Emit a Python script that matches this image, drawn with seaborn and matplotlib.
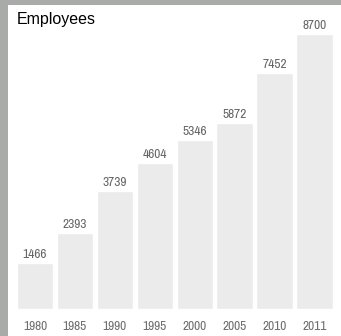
import matplotlib
matplotlib.use("Agg")
import matplotlib.pyplot as plt
from matplotlib.patches import Rectangle
import seaborn as sns
import pandas as pd

years = ["1980", "1985", "1990", "1995", "2000", "2005", "2010", "2011"]
employees = [1466, 2393, 3739, 4604, 5346, 5872, 7452, 8700]
title = "Employees"

sns.set_style("white")
narrow = ["Pragati Narrow", "Archivo Narrow", "DejaVu Sans"]
plt.rcParams["font.family"] = narrow

W, H = 341, 336
fig = plt.figure(figsize=(W / 100, H / 100), dpi=100)
fig.patch.set_facecolor("#a9aba9")
# white panel inside the grey frame
fig.add_artist(Rectangle((8 / W, 0), 1 - 8 / W, 1 - 5 / H, transform=fig.transFigure,
                         facecolor="white", edgecolor="none", zorder=0))

ax = fig.add_axes([15 / W, 27 / H, (334.5 - 15) / W, (309 - 5) / H])
ax.set_facecolor("none")

df = pd.DataFrame({"year": years, "employees": employees})
sns.barplot(data=df, x="year", y="employees", color="#ebebeb", width=0.91,
            saturation=1, ax=ax)

for container in ax.containers:
    ax.bar_label(container, fmt="%d", padding=2, fontsize=10.5, color="#666666",
                 fontfamily=narrow)

ax.set_xlim(-0.5, 7.5)
ax.set_ylim(0, 9600)
ax.set_xlabel("")
ax.set_ylabel("")
ax.set_yticks([])
ax.tick_params(axis="x", length=0, pad=8.5, labelsize=10.5, labelcolor="#6e6e6e")
for lbl in ax.get_xticklabels():
    lbl.set_fontfamily(narrow)
sns.despine(ax=ax, left=True, bottom=True)

fig.text(17 / W, 1 - 24 / H, title, fontsize=11.5, color="black",
         fontfamily=["Liberation Sans", "DejaVu Sans"], va="baseline", ha="left")

fig.savefig("out.png", dpi=100)
